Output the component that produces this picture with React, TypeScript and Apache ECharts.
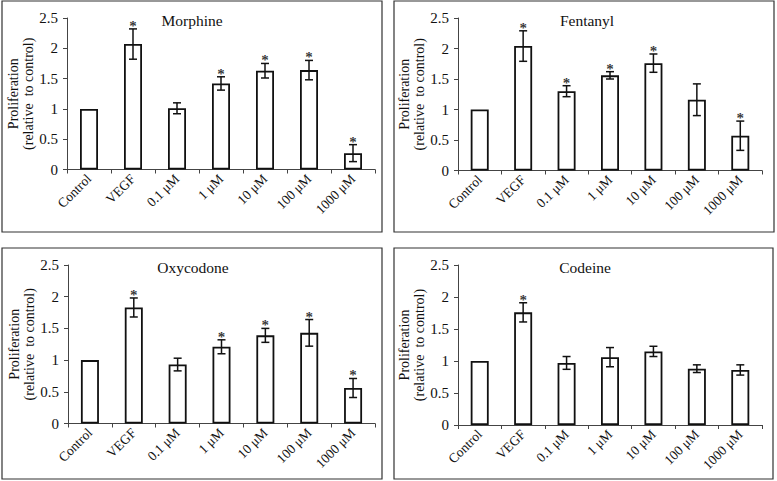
import React, { useEffect, useRef } from "react";
import * as echarts from "echarts";

const categories = ["Control", "VEGF", "0.1 μM", "1 μM", "10 μM", "100 μM", "1000 μM"];
const yTicks = [0, 0.5, 1, 1.5, 2, 2.5];

const panelTitles = ["Morphine", "Fentanyl", "Oxycodone", "Codeine"];

const morphineMean = [1.0, 2.07, 1.01, 1.42, 1.63, 1.64, 0.27];
const morphineErr = [0, 0.25, 0.09, 0.11, 0.12, 0.16, 0.14];
const morphineStar = [false, true, false, true, true, true, true];

const fentanylMean = [1.0, 2.04, 1.3, 1.56, 1.76, 1.16, 0.57];
const fentanylErr = [0, 0.25, 0.09, 0.06, 0.15, 0.26, 0.24];
const fentanylStar = [false, true, true, true, true, false, true];

const oxycodoneMean = [1.0, 1.83, 0.93, 1.21, 1.39, 1.43, 0.56];
const oxycodoneErr = [0, 0.15, 0.1, 0.11, 0.11, 0.21, 0.15];
const oxycodoneStar = [false, true, false, true, true, true, true];

const codeineMean = [1.0, 1.76, 0.97, 1.06, 1.15, 0.88, 0.86];
const codeineErr = [0, 0.15, 0.1, 0.15, 0.08, 0.06, 0.08];
const codeineStar = [false, true, false, false, false, false, false];

const allMeans = [morphineMean, fentanylMean, oxycodoneMean, codeineMean];
const allErrs = [morphineErr, fentanylErr, oxycodoneErr, codeineErr];
const allStars = [morphineStar, fentanylStar, oxycodoneStar, codeineStar];

const FONT = "'Liberation Serif', 'Times New Roman', serif";

// layout (pixels)
const grids = [
  { left: 67, top: 18, width: 308, height: 151.5 },
  { left: 458, top: 18, width: 304, height: 152.5 },
  { left: 68, top: 265, width: 307, height: 158.5 },
  { left: 458, top: 265, width: 304, height: 160 },
];
const panels = [
  { x: 2, y: 1, w: 380, h: 231 },
  { x: 394, y: 1, w: 380, h: 231 },
  { x: 2, y: 248, w: 380, h: 231 },
  { x: 394, y: 248, w: 379, h: 231 },
];
const titlePos = [
  { x: 192, y: 20 },
  { x: 587, y: 20 },
  { x: 193, y: 267 },
  { x: 585, y: 267 },
];

export default function App() {
  const ref = useRef<HTMLDivElement>(null);
  useEffect(() => {
    if (!ref.current) return;
    const chart = echarts.init(ref.current, undefined, { renderer: "svg" });

    const grid = grids.map((g) => ({ ...g, containLabel: false }));
    const xAxis = grids.map((_, i) => ({
      type: "category",
      gridIndex: i,
      data: categories,
      boundaryGap: true,
      axisLine: { show: true, lineStyle: { color: "#444", width: 1 } },
      axisTick: { show: true, alignWithLabel: false, length: 4, lineStyle: { color: "#444" } },
      axisLabel: {
        interval: 0,
        rotate: 45,
        margin: 7,
        color: "#111",
        fontFamily: FONT,
        fontSize: 13.5,
      },
      splitLine: { show: false },
    }));
    const yAxis = grids.map((_, i) => ({
      type: "value",
      gridIndex: i,
      min: yTicks[0],
      max: yTicks[yTicks.length - 1],
      interval: 0.5,
      name: "Proliferation\n(relative  to control)",
      nameLocation: "middle",
      nameRotate: 90,
      nameGap: 24,
      nameTextStyle: { color: "#111", fontFamily: FONT, fontSize: 14, lineHeight: 14.5 },
      axisLine: { show: true, lineStyle: { color: "#444", width: 1 } },
      axisTick: { show: true, length: 4, lineStyle: { color: "#444" } },
      axisLabel: { color: "#111", fontFamily: FONT, fontSize: 15, margin: 9 },
      splitLine: { show: false },
    }));

    const series: any[] = [];
    allMeans.forEach((means, i) => {
      const errs = allErrs[i];
      const stars = allStars[i];
      series.push({
        type: "bar",
        xAxisIndex: i,
        yAxisIndex: i,
        data: means,
        barWidth: 18,
        itemStyle: { color: "#fff", borderColor: "#111", borderWidth: 1.8 },
        z: 2,
      });
      series.push({
        type: "custom",
        xAxisIndex: i,
        yAxisIndex: i,
        z: 3,
        itemStyle: { color: "#111" },
        data: means.map((m, j) => [j, m, errs[j]]),
        renderItem: (params: any, api: any) => {
          const idx = api.value(0);
          const m = api.value(1);
          const e = api.value(2);
          const top = api.coord([idx, m + e]);
          const bot = api.coord([idx, m - e]);
          const cx = top[0];
          const cap = 4;
          const children: any[] = [];
          if (e > 0) {
            const ls = { stroke: "#111", lineWidth: 1.5, fill: "none" };
            children.push(
              { type: "line", shape: { x1: cx, y1: top[1], x2: cx, y2: bot[1] }, style: ls },
              { type: "line", shape: { x1: cx - cap, y1: top[1], x2: cx + cap, y2: top[1] }, style: ls },
              { type: "line", shape: { x1: cx - cap, y1: bot[1], x2: cx + cap, y2: bot[1] }, style: ls }
            );
          }
          return { type: "group", children };
        },
      });
      series.push({
        type: "scatter",
        xAxisIndex: i,
        yAxisIndex: i,
        z: 4,
        symbolSize: 1,
        itemStyle: { color: "rgba(0,0,0,0)" },
        silent: true,
        data: means
          .map((m, j) => (stars[j] ? [j, m + errs[j]] : null))
          .filter((d) => d !== null),
        label: {
          show: true,
          formatter: "*",
          position: "top",
          distance: -5,
          color: "#000",
          fontFamily: FONT,
          fontWeight: "bold",
          fontSize: 15,
        },
      });
    });

    const graphic: any[] = [];
    panels.forEach((p) => {
      graphic.push({
        type: "rect",
        shape: { x: p.x, y: p.y, width: p.w, height: p.h },
        style: { fill: "none", stroke: "#333", lineWidth: 1.2 },
        z: 0,
      });
    });
    panelTitles.forEach((t, i) => {
      graphic.push({
        type: "text",
        x: titlePos[i].x,
        y: titlePos[i].y,
        style: {
          text: t,
          fill: "#111",
          fontFamily: FONT,
          fontSize: 15.5,
          align: "center",
          verticalAlign: "middle",
        },
        z: 5,
      });
    });

    chart.setOption({
      animation: false,
      backgroundColor: "#fff",
      grid,
      xAxis,
      yAxis,
      series,
      graphic,
    });
    return () => chart.dispose();
  }, []);

  return <div ref={ref} style={{ width: 777, height: 481, position: "absolute", left: 0, top: 0 }} />;
}
